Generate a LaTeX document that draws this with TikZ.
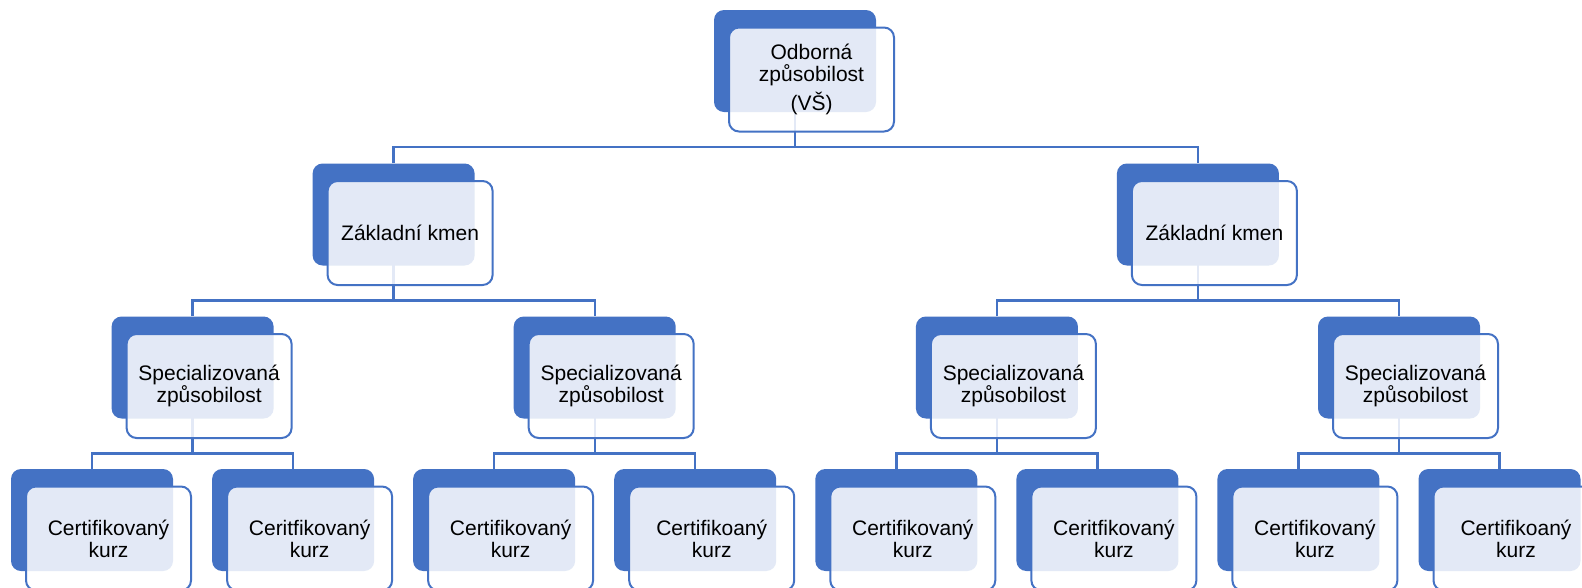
\documentclass[tikz,border=0pt]{standalone}
\usepackage{fontspec}
\setmainfont{Liberation Sans}
\usetikzlibrary{backgrounds}
\definecolor{sablue}{RGB}{68,114,196}
\newcommand\hnode[4]{%
  \node[backbox] (#1) at (#2,#3+51) {};
  \node[frontbox] (#1f) at (#2+16.5,#3+69.5) {};
  \node[txt] (#1t) at (#1f) {#4};
}
\begin{document}
\begin{tikzpicture}[x=1pt,y=-1pt,
  backbox/.style={fill=sablue, rounded corners=10pt, minimum width=162pt, minimum height=102pt, inner sep=0pt},
  frontbox/.style={draw=sablue, line width=2pt, fill=white, fill opacity=0.85, rounded corners=10pt, minimum width=165pt, minimum height=104pt, inner sep=0pt},
  txt/.style={font=\fontsize{21}{22}\selectfont, align=center, text=black, inner sep=0pt},
  conn/.style={draw=sablue, line width=2.4pt}]
\useasboundingbox (0,0) rectangle (1582,587);
% level 1
\hnode{top}{795}{10}{Odborná\\ způsobilost\\[6pt] (VŠ)}
% level 2
\hnode{ka}{393.6}{163.5}{Základní kmen}
\hnode{kb}{1197.9}{163.5}{Základní kmen}
% level 3
\hnode{sa}{192.6}{316.5}{Specializovaná\\ způsobilost}
\hnode{sb}{594.7}{316.5}{Specializovaná\\ způsobilost}
\hnode{sc}{996.9}{316.5}{Specializovaná\\ způsobilost}
\hnode{sd}{1399}{316.5}{Specializovaná\\ způsobilost}
% level 4
\hnode{ca}{92}{469}{Certifikovaný\\ kurz}
\hnode{cb}{293.1}{469}{Ceritfikovaný\\ kurz}
\hnode{cc}{494.1}{469}{Certifikovaný\\ kurz}
\hnode{cd}{695.2}{469}{Certifikoaný\\ kurz}
\hnode{ce}{896.3}{469}{Certifikovaný\\ kurz}
\hnode{cf}{1097.4}{469}{Ceritfikovaný\\ kurz}
\hnode{cg}{1298.4}{469}{Certifikovaný\\ kurz}
\hnode{ch}{1499.5}{469}{Certifikoaný\\ kurz}
% connector junctions
\coordinate (h0) at (795,147);
\coordinate (h1) at (393.6,300.5);
\coordinate (h2) at (1197.9,300.5);
\coordinate (h3) at (192.6,453.5);
\coordinate (h4) at (594.7,453.5);
\coordinate (h5) at (996.9,453.5);
\coordinate (h6) at (1399,453.5);
\begin{scope}[on background layer]
  \draw[conn] (top.center) -- (h0);
  \draw[conn] (ka.north) |- (h0) -| (kb.north);
  \draw[conn] (ka.center) -- (h1);
  \draw[conn] (sa.north) |- (h1) -| (sb.north);
  \draw[conn] (kb.center) -- (h2);
  \draw[conn] (sc.north) |- (h2) -| (sd.north);
  \draw[conn] (sa.center) -- (h3);
  \draw[conn] (ca.north) |- (h3) -| (cb.north);
  \draw[conn] (sb.center) -- (h4);
  \draw[conn] (cc.north) |- (h4) -| (cd.north);
  \draw[conn] (sc.center) -- (h5);
  \draw[conn] (ce.north) |- (h5) -| (cf.north);
  \draw[conn] (sd.center) -- (h6);
  \draw[conn] (cg.north) |- (h6) -| (ch.north);
\end{scope}
\end{tikzpicture}
\end{document}
